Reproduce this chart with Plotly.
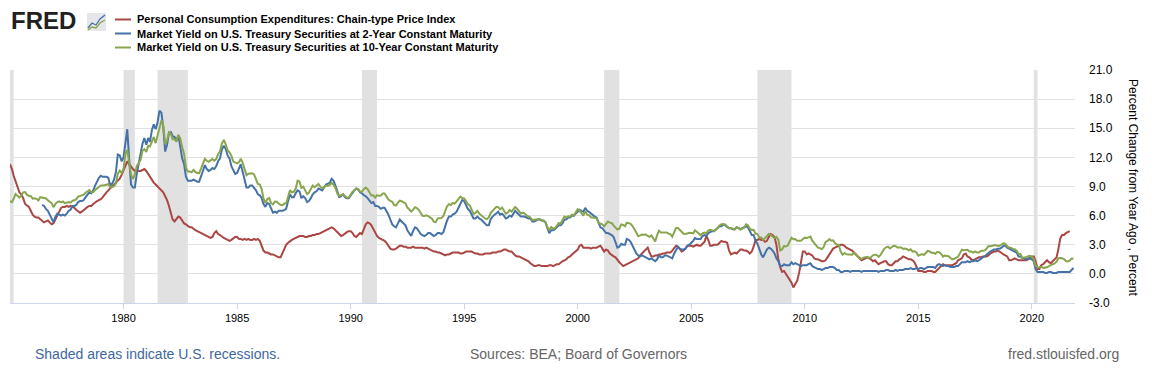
import pandas as pd
import plotly.graph_objects as go

# ---------------- data (monthly) ----------------
series_names = [
    "Personal Consumption Expenditures: Chain-type Price Index",
    "Market Yield on U.S. Treasury Securities at 2-Year Constant Maturity",
    "Market Yield on U.S. Treasury Securities at 10-Year Constant Maturity",
]
series_colors = ["#AA4643", "#4572A7", "#89A54E"]

pce_start = "1975-01-01"
pce_yoy = [
    11.3, 10.8, 10.1, 9.5, 9.0, 8.4, 8.2, 7.8, 7.2, 7.0, 6.9, 6.5,      # 1975
    6.1, 5.9, 5.8, 5.8, 5.6, 5.4, 5.3, 5.4, 5.5, 5.3, 5.1, 5.2,         # 1976
    5.6, 6.1, 6.5, 6.8, 6.9, 6.9, 7.0, 6.9, 7.0, 6.9, 6.8, 6.6,         # 1977
    6.4, 6.3, 6.4, 6.6, 6.8, 6.9, 7.0, 7.0, 7.2, 7.4, 7.5, 7.6,         # 1978
    7.7, 7.9, 8.2, 8.4, 8.6, 8.8, 9.0, 9.2, 9.5, 9.6, 9.8, 10.2,        # 1979
    10.7, 11.2, 11.6, 11.3, 11.0, 10.8, 10.6, 10.6, 10.6, 10.6, 10.7, 10.8,  # 1980
    10.6, 10.3, 9.9, 9.6, 9.4, 9.2, 9.0, 8.7, 8.5, 8.4, 8.0, 7.6,       # 1981
    7.0, 6.3, 5.6, 5.4, 5.7, 5.9, 5.8, 5.5, 5.2, 5.1, 4.9, 4.8,         # 1982
    4.8, 4.6, 4.5, 4.4, 4.3, 4.2, 4.1, 4.0, 3.9, 3.8, 3.7, 3.8,         # 1983
    4.2, 4.4, 4.1, 4.0, 3.8, 3.7, 3.6, 3.5, 3.4, 3.5, 3.7, 3.8,         # 1984
    3.8, 3.6, 3.6, 3.5, 3.6, 3.5, 3.6, 3.5, 3.5, 3.6, 3.5, 3.6,         # 1985
    3.4, 2.9, 2.4, 2.2, 2.2, 2.1, 2.0, 2.0, 1.9, 1.8, 1.7, 1.7,         # 1986
    2.1, 2.6, 3.0, 3.2, 3.4, 3.5, 3.6, 3.7, 3.8, 3.9, 3.9, 3.9,         # 1987
    3.8, 3.8, 3.9, 3.9, 4.0, 4.0, 4.1, 4.1, 4.2, 4.3, 4.4, 4.5,         # 1988
    4.6, 4.7, 4.8, 4.7, 4.5, 4.3, 4.1, 3.9, 4.0, 4.2, 4.3, 4.4,         # 1989
    4.4, 4.2, 3.9, 3.8, 4.0, 4.2, 4.1, 4.6, 5.1, 5.3, 5.2, 5.0,         # 1990
    4.6, 4.2, 3.9, 3.7, 3.6, 3.5, 3.4, 3.2, 2.9, 2.6, 2.5, 2.5,         # 1991
    2.6, 2.8, 2.9, 2.9, 2.8, 2.8, 2.7, 2.7, 2.7, 2.8, 2.7, 2.7,         # 1992
    2.7, 2.7, 2.7, 2.6, 2.7, 2.6, 2.5, 2.4, 2.3, 2.3, 2.2, 2.2,         # 1993
    2.1, 2.0, 1.9, 2.0, 2.0, 2.1, 2.2, 2.2, 2.2, 2.2, 2.1, 2.1,         # 1994
    2.2, 2.3, 2.3, 2.3, 2.3, 2.2, 2.1, 2.1, 2.0, 2.0, 2.0, 2.1,         # 1995
    2.1, 2.1, 2.1, 2.2, 2.2, 2.2, 2.3, 2.3, 2.4, 2.5, 2.5, 2.4,         # 1996
    2.3, 2.3, 2.1, 1.9, 1.8, 1.8, 1.7, 1.6, 1.5, 1.4, 1.3, 1.1,         # 1997
    0.9, 0.8, 0.8, 0.9, 0.9, 0.8, 0.8, 0.8, 0.8, 0.9, 0.9, 0.8,         # 1998
    0.9, 1.0, 1.0, 1.2, 1.3, 1.4, 1.5, 1.7, 1.8, 2.0, 2.2, 2.3,         # 1999
    2.5, 2.9, 3.0, 2.7, 2.7, 2.7, 2.7, 2.6, 2.7, 2.7, 2.7, 2.8,         # 2000
    2.9, 2.6, 2.3, 2.5, 2.4, 2.1, 1.9, 1.8, 1.7, 1.4, 1.2, 1.0,         # 2001
    0.8, 0.9, 1.0, 1.1, 1.2, 1.3, 1.4, 1.5, 1.6, 1.9, 2.1, 2.3,         # 2002
    2.5, 2.7, 2.2, 1.8, 1.8, 1.9, 1.9, 2.0, 2.0, 2.1, 2.1, 2.2,         # 2003
    2.2, 2.2, 2.4, 2.6, 2.9, 2.8, 2.5, 2.3, 2.4, 2.7, 2.9, 2.9,         # 2004
    2.9, 2.8, 2.9, 3.0, 2.9, 2.9, 3.1, 3.3, 3.9, 3.5, 2.9, 2.9,         # 2005
    3.0, 3.0, 3.0, 3.2, 3.4, 3.3, 3.3, 3.2, 2.4, 2.0, 2.1, 2.2,         # 2006
    2.1, 2.3, 2.5, 2.5, 2.4, 2.4, 2.3, 2.1, 2.3, 2.8, 3.5, 3.5,         # 2007
    3.6, 3.5, 3.5, 3.3, 3.4, 3.8, 4.1, 4.0, 3.8, 3.0, 1.5, 0.7,         # 2008
    0.2, 0.3, 0.0, -0.3, -0.6, -0.9, -1.4, -1.0, -0.7, 0.1, 1.4, 2.3,   # 2009
    2.3, 2.0, 2.1, 2.0, 1.9, 1.6, 1.5, 1.5, 1.4, 1.3, 1.3, 1.4,         # 2010
    1.7, 2.0, 2.3, 2.6, 2.7, 2.8, 2.9, 3.0, 3.0, 2.9, 2.7, 2.6,         # 2011
    2.5, 2.4, 2.2, 2.0, 1.7, 1.5, 1.4, 1.5, 1.6, 1.7, 1.6, 1.5,         # 2012
    1.3, 1.4, 1.2, 1.0, 1.1, 1.2, 1.3, 1.3, 1.0, 0.9, 0.9, 1.1,         # 2013
    1.3, 1.3, 1.5, 1.6, 1.8, 1.7, 1.6, 1.5, 1.5, 1.4, 1.2, 0.8,         # 2014
    0.3, 0.3, 0.3, 0.2, 0.2, 0.3, 0.3, 0.3, 0.2, 0.2, 0.4, 0.6,         # 2015
    0.9, 1.0, 0.9, 0.9, 0.9, 0.9, 0.9, 1.0, 1.1, 1.4, 1.5, 1.6,         # 2016
    2.0, 2.1, 1.8, 1.7, 1.5, 1.4, 1.5, 1.6, 1.7, 1.7, 1.8, 1.8,         # 2017
    1.8, 1.9, 2.1, 2.2, 2.3, 2.3, 2.4, 2.3, 2.1, 2.0, 1.9, 1.8,         # 2018
    1.4, 1.4, 1.5, 1.6, 1.5, 1.4, 1.4, 1.4, 1.4, 1.4, 1.5, 1.6,         # 2019
    1.8, 1.8, 1.3, 0.5, 0.5, 0.9, 1.0, 1.2, 1.4, 1.2, 1.1, 1.3,         # 2020
    1.5, 1.7, 2.5, 3.6, 4.0, 4.0, 4.2, 4.3, 4.4,                        # 2021
]

gs2_start = "1976-06-01"
gs2_yield = [
    7.1, 7.0, 6.7, 6.5, 6.1, 5.6, 5.3,                                  # 1976 (Jun-Dec)
    5.9, 6.2, 6.1, 6.0, 6.1, 6.0, 6.2, 6.5, 6.6, 7.0, 7.0, 7.1,         # 1977
    7.4, 7.5, 7.5, 7.6, 7.9, 8.2, 8.4, 8.3, 8.6, 9.1, 9.6, 9.9,         # 1978
    10.1, 10.0, 10.0, 10.0, 9.9, 9.1, 9.3, 9.7, 10.5, 12.3, 12.2, 11.6, # 1979
    12.0, 13.5, 14.9, 11.8, 9.2, 8.9, 8.9, 10.3, 11.5, 12.5, 13.4, 14.0,  # 1980
    13.3, 14.0, 13.6, 14.8, 15.4, 14.9, 15.6, 16.8, 16.6, 15.1, 12.6, 13.3,  # 1981
    14.5, 14.6, 14.2, 14.1, 13.7, 14.3, 13.3, 11.9, 11.3, 10.0, 9.6, 9.6,    # 1982
    9.6, 9.7, 9.6, 9.5, 9.5, 10.2, 10.6, 11.2, 10.8, 10.6, 10.7, 10.9,       # 1983
    10.8, 11.1, 11.6, 11.9, 12.8, 13.2, 12.9, 12.2, 11.9, 11.1, 10.6, 10.3,  # 1984
    10.4, 10.9, 11.3, 10.5, 9.7, 8.9, 8.9, 9.1, 9.1, 8.9, 8.6, 8.2,     # 1985
    8.1, 7.8, 7.2, 6.9, 7.3, 7.2, 6.7, 6.3, 6.4, 6.3, 6.5, 6.5,         # 1986
    6.5, 6.6, 6.7, 7.5, 8.2, 7.9, 7.9, 8.3, 8.6, 8.5, 7.8, 8.0,         # 1987
    7.8, 7.4, 7.5, 7.8, 8.2, 8.4, 8.5, 8.8, 8.7, 8.6, 8.9, 9.2,         # 1988
    9.3, 9.4, 9.8, 9.6, 9.1, 8.4, 7.9, 8.0, 8.2, 7.9, 7.8, 7.8,         # 1989
    8.1, 8.4, 8.6, 8.8, 8.7, 8.4, 8.3, 8.1, 8.0, 7.8, 7.6, 7.3,         # 1990
    7.4, 7.0, 7.0, 6.9, 6.7, 6.8, 6.8, 6.5, 6.1, 5.6, 5.1, 4.9,         # 1991
    4.8, 5.2, 5.6, 5.4, 5.2, 5.0, 4.5, 4.2, 3.9, 4.4, 4.8, 4.7,         # 1992
    4.4, 4.1, 4.0, 3.9, 4.0, 4.2, 4.2, 4.0, 3.9, 4.0, 4.2, 4.2,         # 1993
    4.1, 4.3, 4.9, 5.5, 5.9, 5.9, 6.1, 6.2, 6.4, 6.8, 7.3, 7.6,         # 1994
    7.5, 7.1, 6.7, 6.5, 6.1, 5.7, 5.7, 5.9, 5.7, 5.6, 5.4, 5.2,         # 1995
    5.0, 5.0, 5.6, 5.9, 6.1, 6.3, 6.4, 6.1, 6.2, 6.0, 5.7, 5.8,         # 1996
    6.0, 5.9, 6.2, 6.5, 6.3, 6.1, 5.9, 5.9, 5.9, 5.8, 5.7, 5.7,         # 1997
    5.4, 5.4, 5.5, 5.6, 5.6, 5.5, 5.5, 5.3, 4.7, 4.2, 4.5, 4.5,         # 1998
    4.6, 4.8, 5.0, 5.0, 5.2, 5.6, 5.6, 5.8, 5.8, 6.0, 6.0, 6.2,         # 1999
    6.4, 6.6, 6.5, 6.4, 6.8, 6.5, 6.4, 6.2, 6.0, 5.9, 5.8, 5.3,         # 2000
    4.8, 4.7, 4.4, 4.2, 4.2, 4.1, 4.0, 3.8, 3.1, 2.7, 2.8, 3.1,         # 2001
    3.0, 3.0, 3.6, 3.5, 3.3, 2.9, 2.4, 2.1, 1.9, 1.8, 1.9, 1.8,         # 2002
    1.7, 1.6, 1.5, 1.6, 1.4, 1.3, 1.5, 1.9, 1.7, 1.7, 1.9, 1.9,         # 2003
    1.8, 1.7, 1.6, 2.1, 2.5, 2.8, 2.6, 2.5, 2.5, 2.6, 2.9, 3.0,         # 2004
    3.2, 3.4, 3.7, 3.6, 3.6, 3.6, 3.9, 4.0, 3.9, 4.2, 4.3, 4.4,         # 2005
    4.4, 4.6, 4.7, 4.9, 4.9, 5.1, 5.0, 4.8, 4.7, 4.7, 4.6, 4.6,         # 2006
    4.8, 4.7, 4.6, 4.7, 4.8, 4.9, 4.8, 4.3, 4.0, 4.0, 3.4, 3.1,         # 2007
    2.5, 2.0, 1.7, 2.2, 2.5, 2.7, 2.6, 2.4, 2.1, 1.6, 1.3, 0.8,         # 2008
    0.8, 1.0, 0.9, 0.9, 0.9, 1.2, 1.0, 1.1, 1.0, 0.9, 0.8, 0.9,         # 2009
    0.9, 0.9, 1.0, 1.1, 0.8, 0.7, 0.6, 0.5, 0.5, 0.4, 0.5, 0.6,         # 2010
    0.6, 0.7, 0.7, 0.7, 0.6, 0.4, 0.4, 0.2, 0.2, 0.3, 0.3, 0.3,         # 2011
    0.2, 0.3, 0.3, 0.3, 0.3, 0.3, 0.2, 0.3, 0.3, 0.3, 0.3, 0.3,         # 2012
    0.3, 0.3, 0.3, 0.2, 0.3, 0.3, 0.3, 0.4, 0.4, 0.3, 0.3, 0.3,         # 2013
    0.4, 0.3, 0.4, 0.4, 0.4, 0.5, 0.5, 0.5, 0.6, 0.5, 0.5, 0.6,         # 2014
    0.5, 0.6, 0.6, 0.5, 0.6, 0.7, 0.7, 0.7, 0.7, 0.6, 0.9, 1.0,         # 2015
    0.9, 0.8, 0.9, 0.8, 0.8, 0.7, 0.7, 0.7, 0.8, 0.8, 1.0, 1.2,         # 2016
    1.2, 1.2, 1.3, 1.2, 1.3, 1.3, 1.4, 1.3, 1.4, 1.6, 1.7, 1.8,         # 2017
    2.0, 2.2, 2.3, 2.4, 2.5, 2.5, 2.6, 2.6, 2.7, 2.9, 2.9, 2.7,         # 2018
    2.6, 2.5, 2.4, 2.3, 2.2, 1.8, 1.8, 1.6, 1.6, 1.5, 1.6, 1.6,         # 2019
    1.5, 1.3, 0.5, 0.2, 0.2, 0.2, 0.2, 0.1, 0.1, 0.2, 0.2, 0.1,         # 2020
    0.1, 0.1, 0.2, 0.2, 0.2, 0.2, 0.2, 0.2, 0.2, 0.4, 0.6,              # 2021
]

gs10_start = "1975-01-01"
gs10_yield = [
    7.50, 7.39, 7.73, 8.23, 8.06, 7.86, 8.06, 8.40, 8.43, 8.14, 8.05, 8.00,      # 1975
    7.74, 7.79, 7.73, 7.56, 7.90, 7.86, 7.83, 7.77, 7.59, 7.41, 7.29, 6.87,      # 1976
    7.21, 7.39, 7.46, 7.37, 7.46, 7.28, 7.33, 7.40, 7.34, 7.52, 7.58, 7.69,      # 1977
    7.96, 8.03, 8.04, 8.15, 8.35, 8.46, 8.64, 8.41, 8.42, 8.64, 8.81, 9.01,      # 1978
    9.10, 9.10, 9.12, 9.18, 9.25, 8.91, 8.95, 9.03, 9.33, 10.30, 10.65, 10.39,   # 1979
    10.80, 12.41, 12.75, 11.47, 10.18, 9.78, 10.25, 11.10, 11.51, 11.75, 12.68, 12.84,  # 1980
    12.57, 13.19, 13.12, 13.68, 14.10, 13.47, 14.28, 14.94, 15.80, 15.30, 13.39, 13.72,  # 1981
    14.59, 14.43, 13.86, 13.87, 13.62, 14.30, 13.95, 13.06, 12.34, 10.91, 10.55, 10.54,  # 1982
    10.46, 10.72, 10.51, 10.40, 10.38, 10.85, 11.38, 11.85, 11.65, 11.54, 11.69, 11.83,  # 1983
    11.67, 11.84, 12.32, 12.63, 13.41, 13.80, 13.36, 12.72, 12.52, 12.16, 11.57, 11.50,  # 1984
    11.38, 11.51, 11.86, 11.43, 10.85, 10.16, 10.31, 10.33, 10.37, 10.24, 9.78, 9.26,    # 1985
    9.19, 8.70, 7.78, 7.30, 7.71, 7.80, 7.30, 7.17, 7.45, 7.43, 7.25, 7.11,      # 1986
    7.08, 7.25, 7.25, 8.02, 8.61, 8.40, 8.45, 8.76, 9.60, 9.52, 8.86, 8.99,      # 1987
    8.67, 8.21, 8.37, 8.72, 9.09, 8.92, 9.06, 9.26, 8.98, 8.80, 8.96, 9.11,      # 1988
    9.09, 9.17, 9.36, 9.18, 8.86, 8.28, 8.02, 8.11, 8.19, 8.01, 7.87, 7.84,      # 1989
    8.21, 8.47, 8.59, 8.79, 8.76, 8.48, 8.47, 8.75, 8.89, 8.72, 8.39, 8.08,      # 1990
    8.09, 7.85, 8.11, 8.04, 8.07, 8.28, 8.27, 7.90, 7.65, 7.53, 7.42, 7.09,      # 1991
    7.03, 7.34, 7.54, 7.48, 7.39, 7.26, 6.84, 6.59, 6.42, 6.59, 6.87, 6.77,      # 1992
    6.60, 6.26, 5.98, 5.97, 6.04, 5.96, 5.81, 5.68, 5.36, 5.33, 5.72, 5.77,      # 1993
    5.75, 5.97, 6.48, 6.97, 7.18, 7.10, 7.30, 7.24, 7.46, 7.74, 7.96, 7.81,      # 1994
    7.78, 7.47, 7.20, 7.06, 6.63, 6.17, 6.28, 6.49, 6.20, 6.04, 5.93, 5.71,      # 1995
    5.65, 5.81, 6.27, 6.51, 6.74, 6.91, 6.87, 6.64, 6.83, 6.53, 6.20, 6.30,      # 1996
    6.58, 6.42, 6.69, 6.89, 6.71, 6.49, 6.22, 6.30, 6.21, 6.03, 5.88, 5.81,      # 1997
    5.54, 5.57, 5.65, 5.64, 5.65, 5.50, 5.46, 5.34, 4.81, 4.53, 4.83, 4.65,      # 1998
    4.72, 5.00, 5.23, 5.18, 5.54, 5.90, 5.79, 5.94, 5.92, 6.11, 6.03, 6.28,      # 1999
    6.66, 6.52, 6.26, 5.99, 6.44, 6.10, 6.05, 5.83, 5.80, 5.74, 5.72, 5.24,      # 2000
    5.16, 5.10, 4.89, 5.14, 5.39, 5.28, 5.24, 4.97, 4.73, 4.57, 4.65, 5.09,      # 2001
    5.04, 4.91, 5.28, 5.21, 5.16, 4.93, 4.65, 4.26, 3.87, 3.94, 4.05, 4.03,      # 2002
    4.05, 3.90, 3.81, 3.96, 3.57, 3.33, 3.98, 4.45, 4.27, 4.29, 4.30, 4.27,      # 2003
    4.15, 4.08, 3.83, 4.35, 4.72, 4.73, 4.50, 4.28, 4.13, 4.10, 4.19, 4.23,      # 2004
    4.22, 4.17, 4.50, 4.34, 4.14, 4.00, 4.18, 4.26, 4.20, 4.46, 4.54, 4.47,      # 2005
    4.42, 4.57, 4.72, 4.99, 5.11, 5.11, 5.09, 4.88, 4.72, 4.73, 4.60, 4.56,      # 2006
    4.76, 4.72, 4.56, 4.69, 4.75, 5.10, 5.00, 4.67, 4.52, 4.53, 4.15, 4.10,      # 2007
    3.74, 3.74, 3.51, 3.68, 3.88, 4.10, 4.01, 3.89, 3.69, 3.81, 3.53, 2.42,      # 2008
    2.52, 2.87, 2.82, 2.93, 3.29, 3.72, 3.56, 3.59, 3.40, 3.39, 3.40, 3.59,      # 2009
    3.73, 3.69, 3.73, 3.85, 3.42, 3.20, 3.01, 2.70, 2.65, 2.54, 2.76, 3.29,      # 2010
    3.39, 3.58, 3.41, 3.46, 3.17, 3.00, 3.00, 2.30, 1.98, 2.15, 2.01, 1.98,      # 2011
    1.97, 1.97, 2.17, 2.05, 1.80, 1.62, 1.53, 1.68, 1.72, 1.75, 1.65, 1.72,      # 2012
    1.91, 1.98, 1.96, 1.76, 1.93, 2.30, 2.58, 2.74, 2.81, 2.62, 2.72, 2.90,      # 2013
    2.86, 2.71, 2.72, 2.71, 2.56, 2.60, 2.54, 2.42, 2.53, 2.30, 2.33, 2.21,      # 2014
    1.88, 1.98, 2.04, 1.94, 2.20, 2.36, 2.32, 2.17, 2.17, 2.07, 2.26, 2.24,      # 2015
    2.09, 1.78, 1.89, 1.81, 1.81, 1.64, 1.50, 1.56, 1.63, 1.76, 2.14, 2.49,      # 2016
    2.43, 2.42, 2.48, 2.30, 2.30, 2.19, 2.32, 2.21, 2.20, 2.36, 2.35, 2.40,      # 2017
    2.58, 2.86, 2.84, 2.87, 2.98, 2.91, 2.89, 2.89, 3.00, 3.15, 3.12, 2.83,      # 2018
    2.71, 2.68, 2.57, 2.53, 2.40, 2.07, 2.06, 1.63, 1.70, 1.71, 1.81, 1.86,      # 2019
    1.76, 1.50, 0.87, 0.66, 0.67, 0.73, 0.62, 0.65, 0.68, 0.79, 0.87, 0.93,      # 2020
    1.08, 1.26, 1.61, 1.64, 1.62, 1.52, 1.32, 1.28, 1.37, 1.58, 1.56,            # 2021
]

recession_starts = ["1973-11-01", "1980-01-01", "1981-07-01", "1990-07-01",
                    "2001-03-01", "2007-12-01", "2020-02-01"]
recession_ends = ["1975-03-01", "1980-07-01", "1982-11-01", "1991-03-01",
                  "2001-11-01", "2009-06-01", "2020-04-01"]

x_tick_years = [1980, 1985, 1990, 1995, 2000, 2005, 2010, 2015, 2020]
y_ticks = [-3, 0, 3, 6, 9, 12, 15, 18, 21]

y_title = "Percent Change from Year Ago , Percent"
note_left = "Shaded areas indicate U.S. recessions."
note_mid = "Sources: BEA; Board of Governors"
note_right = "fred.stlouisfed.org"

# ---------------- figure ----------------
FONT = "Liberation Sans, Arial, sans-serif"
# page has an 8px body margin, so the figure is 8px smaller than the window
W, H = 1160, 370
ML, MT = 2, 62
PW, PH = 1065, 233
MR, MB = W - ML - PW, H - MT - PH


def px_x(px):
    # page pixel -> paper coordinate (plot area spans page x 10..1075)
    return (px - 10) / PW


def px_y(py):
    # page pixel -> paper coordinate (plot area spans page y 70..303)
    return (303 - py) / PH


fig = go.Figure()
starts = [pce_start, gs2_start, gs10_start]
values = [pce_yoy, gs2_yield, gs10_yield]
for name, color, st, vals in zip(series_names, series_colors, starts, values):
    dates = pd.date_range(st, periods=len(vals), freq="MS")
    fig.add_trace(go.Scatter(x=dates, y=vals, mode="lines", name=name,
                             line=dict(color=color, width=2),
                             hoverinfo="skip", showlegend=False))

shapes = []
for s, e in zip(recession_starts, recession_ends):
    shapes.append(dict(type="rect", xref="x", yref="paper", x0=s, x1=e, y0=0, y1=1,
                       fillcolor="#e1e1e1", line=dict(width=0), layer="below"))

annotations = []
# manual legend
legend_rows = [19.5, 33.5, 47.5]
for name, color, ry in zip(series_names, series_colors, legend_rows):
    shapes.append(dict(type="line", xref="paper", yref="paper",
                       x0=px_x(115), x1=px_x(131), y0=px_y(ry), y1=px_y(ry),
                       line=dict(color=color, width=2)))
    annotations.append(dict(text="<b>" + name + "</b>", xref="paper", yref="paper",
                            x=px_x(135), y=px_y(ry), xanchor="left", yanchor="middle",
                            showarrow=False,
                            font=dict(family=FONT, size=11, color="#000")))

# FRED logo
annotations.append(dict(text="<b>FRED</b>", xref="paper", yref="paper",
                        x=px_x(10), y=px_y(35.5), xanchor="left", yanchor="bottom",
                        showarrow=False, borderpad=0,
                        font=dict(family=FONT, size=24, color="#231f20")))
shapes.append(dict(type="rect", xref="paper", yref="paper",
                   x0=px_x(87), x1=px_x(106), y0=px_y(31), y1=px_y(13),
                   fillcolor="#e4e6ea", line=dict(width=0)))
shapes.append(dict(type="path", xref="paper", yref="paper",
                   path="M {} {} L {} {} L {} {} L {} {} L {} {}".format(
                       px_x(88), px_y(28), px_x(92), px_y(23), px_x(96), px_y(25),
                       px_x(100), px_y(19), px_x(105), px_y(15)),
                   line=dict(color="#4572A7", width=1.3)))
shapes.append(dict(type="path", xref="paper", yref="paper",
                   path="M {} {} L {} {} L {} {} L {} {} L {} {}".format(
                       px_x(88), px_y(30), px_x(92), px_y(27), px_x(96), px_y(28),
                       px_x(100), px_y(23), px_x(105), px_y(20)),
                   line=dict(color="#89A54E", width=1.3)))

# y-axis title (reads top to bottom)
annotations.append(dict(text=y_title, xref="paper", yref="paper",
                        x=px_x(1133), y=px_y(187), xanchor="center", yanchor="middle",
                        textangle=90, showarrow=False,
                        font=dict(family=FONT, size=12, color="#000")))

# footer
annotations.append(dict(text=note_left, xref="paper", yref="paper",
                        x=px_x(33), y=px_y(354), xanchor="left", yanchor="middle",
                        showarrow=False, font=dict(family=FONT, size=14, color="#3e67a0")))
annotations.append(dict(text=note_mid, xref="paper", yref="paper",
                        x=px_x(578), y=px_y(354), xanchor="center", yanchor="middle",
                        showarrow=False, font=dict(family=FONT, size=14, color="#666666")))
annotations.append(dict(text=note_right, xref="paper", yref="paper",
                        x=px_x(1121), y=px_y(354), xanchor="right", yanchor="middle",
                        showarrow=False, font=dict(family=FONT, size=14, color="#666666")))

fig.update_layout(
    width=W, height=H,
    margin=dict(l=ML, r=MR, t=MT, b=MB, pad=0),
    paper_bgcolor="white", plot_bgcolor="white",
    font=dict(family=FONT, size=12, color="#000"),
    shapes=shapes, annotations=annotations,
    xaxis=dict(type="date", range=["1975-01-01", "2021-11-25"],
               tickvals=[f"{y}-01-01" for y in x_tick_years],
               ticktext=[str(y) for y in x_tick_years],
               showgrid=False, zeroline=False,
               showline=True, linecolor="#ccd6eb", linewidth=1,
               ticks="outside", ticklen=5, tickcolor="#ccd6eb",
               tickfont=dict(family=FONT, size=11, color="#000")),
    yaxis=dict(side="right", range=[-3, 21], tickvals=y_ticks,
               ticktext=[f"{v:.1f}" for v in y_ticks],
               showgrid=True, gridcolor="#e1e1e1", gridwidth=1,
               zeroline=False, showline=False, ticks="",
               ticklabelstandoff=13,
               tickfont=dict(family=FONT, size=12, color="#000")),
)

fig.write_html("out.html")
